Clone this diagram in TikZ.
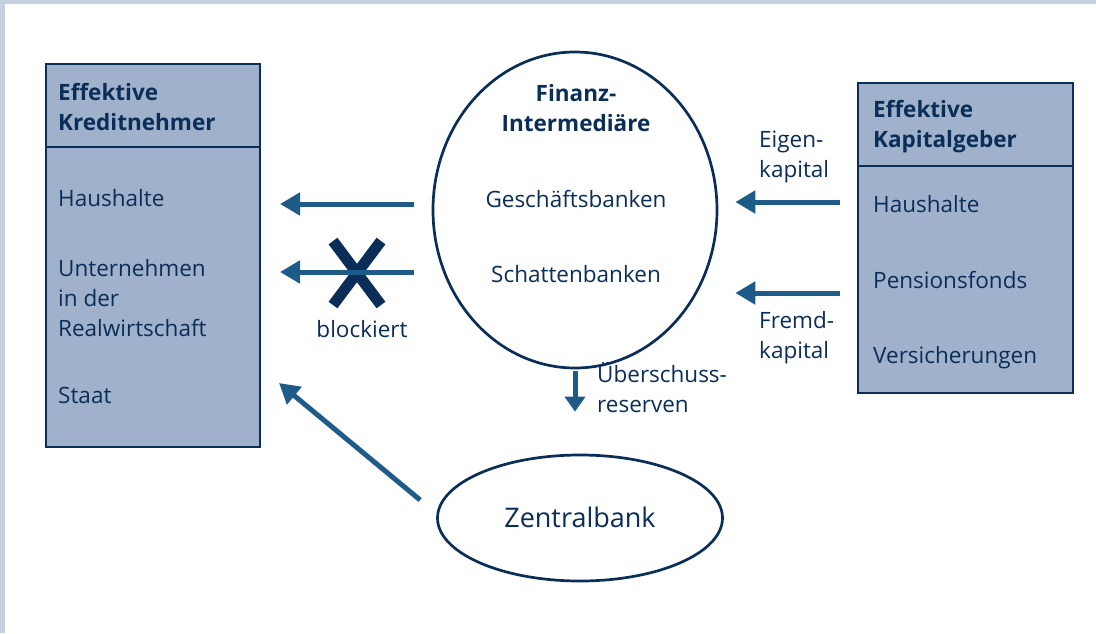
\documentclass[tikz,border=0pt]{standalone}
\usepackage{fontspec}
\setmainfont{Open Sans}
\usetikzlibrary{arrows.meta,positioning,calc,shapes.geometric}
\definecolor{nv}{RGB}{10,46,88}
\definecolor{ac}{RGB}{31,91,137}
\definecolor{bf}{RGB}{160,177,203}
\definecolor{fr}{RGB}{196,207,224}
\tikzset{bx/.style={draw=nv,fill=bf,line width=2.5pt,minimum width=214pt,inner sep=0pt,outer sep=0pt},
 el/.style={ellipse,draw=nv,line width=2.7pt,inner sep=0pt},
 txt/.style={text=nv,inner sep=0pt,align=left,font=\fontsize{22.5}{30}\selectfont},
 hd/.style={txt,font=\fontsize{22.5}{30}\selectfont\bfseries},
 arr/.style={draw=ac,line width=5pt,-{Triangle[length=20pt,width=22pt]}},
 xx/.style={draw=nv,line width=11pt}}
\begin{document}
\begin{tikzpicture}[x=1pt,y=-1pt]
\useasboundingbox (0,0) rectangle (1096,633);
\fill[fr] (0,0) rectangle (1096,633);\fill[white] (5,4) rectangle (1096,633);
\node[bx,minimum height=83pt] (kh) at (153,105.5) {};
\node[bx,minimum height=300pt,below=0pt of kh] (kb) {};
\node[bx,minimum width=215pt,minimum height=83pt] (gh) at (965.5,124.5) {};
\node[bx,minimum width=215pt,minimum height=227pt,below=0pt of gh] (gb) {};
\node[el,minimum width=284pt,minimum height=316pt] (fin) at (575,210) {};
\node[el,minimum width=285pt,minimum height=126pt] (zb) at (580,518) {};
\node[hd,anchor=base west] (kt) at (58,130) {Effektive\\Kreditnehmer};
\node[hd,anchor=base west] (gt) at (873,147) {Effektive\\Kapitalgeber};
\node[hd,anchor=base,align=center] (ft) at (576,131) {Finanz-\\Intermediäre};
\foreach \t/\y [count=\i] in {Haushalte/206,Unternehmen\\in der\\Realwirtschaft/336,Staat/403}
 {\node[txt,anchor=base west] (k\i) at (58,\y) {\t};}
\foreach \t/\y [count=\i] in {Haushalte/212,Pensionsfonds/288,Versicherungen/363}
 {\node[txt,anchor=base west] (g\i) at (873,\y) {\t};}
\node[txt,anchor=base] (f1) at (576,207) {Geschäftsbanken};
\node[txt,anchor=base] (f2) at (576,282) {Schattenbanken};
\node[txt,anchor=base,font=\fontsize{27}{32}\selectfont] (z1) at (580,527) {Zentralbank};
\node[txt,anchor=base west] (ek) at (759,177) {Eigen-\\kapital};
\node[txt,anchor=base west] (fk) at (759,358) {Fremd-\\kapital};
\node[txt,anchor=base west] (ur) at (597,412) {Überschuss-\\reserven};
\node[txt,anchor=base] (blk) at (362,337) {blockiert};
\draw[xx] (333,241) -- (381,305) (381,241) -- (333,305);
\draw[arr,shorten <=18pt,shorten >=20pt] ([yshift=6pt]fin.west) -- ([yshift=6pt]fin.west -| kb.east);
\draw[arr,shorten <=18pt,shorten >=20pt] ([yshift=-62pt]fin.west) -- ([yshift=-62pt]fin.west -| kb.east);
\draw[arr,shorten <=18pt,shorten >=17pt] ([yshift=8pt]fin.east -| gb.west) -- ([yshift=8pt]fin.east);
\draw[arr,shorten <=18pt,shorten >=17pt] ([yshift=-83pt]fin.east -| gb.west) -- ([yshift=-83pt]fin.east);
\draw[arr,-{Triangle[length=15pt,width=20pt]},shorten <=2pt,shorten >=42pt] (fin.south) -- (fin.south |- zb.north);
\draw[arr] ([shift={(-16pt,18pt)}]zb.west) -- ([shift={(19pt,64pt)}]kb.south east);
\end{tikzpicture}
\end{document}
